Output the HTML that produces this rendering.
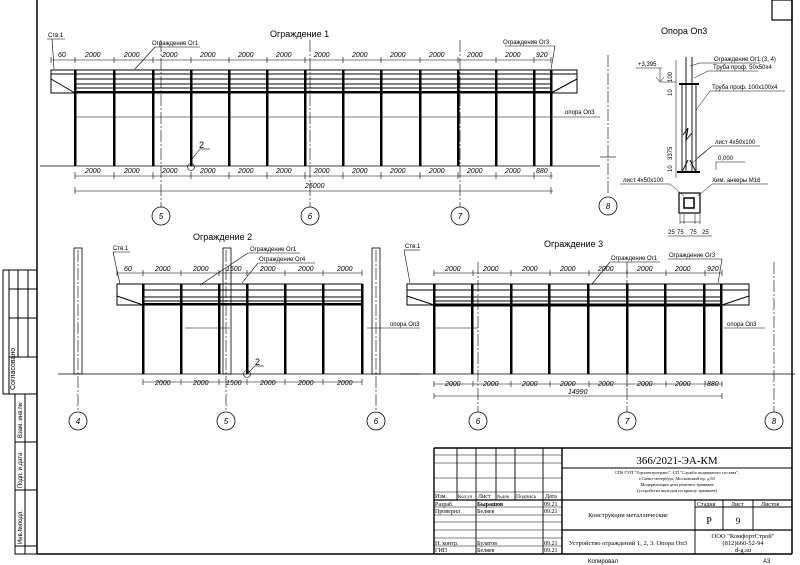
<!DOCTYPE html>
<html><head><meta charset="utf-8"><style>
html,body{margin:0;padding:0;background:#fff;}
svg{display:block;font-family:"Liberation Sans",sans-serif;}
.t{font-size:7px;font-style:italic;}
.s{font-size:6px;}
.sf{font-family:"Liberation Serif",serif;}
</style></head><body>
<svg width="800" height="565" viewBox="0 0 800 565" xmlns="http://www.w3.org/2000/svg" stroke="#000" fill="none">
<rect x="0" y="0" width="800" height="565" fill="#fff" stroke="none"/>
<line x1="37" y1="0" x2="37" y2="554" stroke-width="1.5"/>
<line x1="792" y1="0" x2="792" y2="554" stroke-width="1.5"/>
<line x1="37" y1="554" x2="792" y2="554" stroke-width="1.5"/>
<rect x="772" y="0" width="20" height="20" stroke-width="1.2"/>
<!-- left stamp -->
<g stroke-width="1">
<rect x="3" y="270" width="34" height="124"/>
<line x1="9" y1="270" x2="9" y2="394"/><line x1="18" y1="270" x2="18" y2="357"/><line x1="28" y1="270" x2="28" y2="357"/>
<line x1="9" y1="289" x2="37" y2="289"/><line x1="9" y1="318" x2="37" y2="318"/><line x1="9" y1="357" x2="37" y2="357"/>
<rect x="15" y="394" width="22" height="160"/>
<line x1="25" y1="394" x2="25" y2="554"/>
<line x1="15" y1="442" x2="37" y2="442"/><line x1="15" y1="490" x2="37" y2="490"/><line x1="15" y1="546" x2="37" y2="546"/>
</g>
<g fill="#000" stroke="none" font-size="7">
<text transform="translate(15,390) rotate(-90)">Согласовано</text>
<text transform="translate(22,438) rotate(-90)" font-size="6">Взам. инв.№</text>
<text transform="translate(22,488) rotate(-90)" font-size="6">Подп. и дата</text>
<text transform="translate(22,544) rotate(-90)" font-size="6">Инв.№подл.</text>
</g>

<!-- ================= Fence 1 ================= -->
<text x="270" y="37" font-size="9" fill="#000" stroke="none">Ограждение 1</text>
<g stroke-width="1">
<rect x="51" y="70" width="526" height="23"/>
<line x1="51" y1="74" x2="577" y2="74"/>
<line x1="75" y1="79" x2="551" y2="79"/>
<line x1="75" y1="84" x2="551" y2="84"/>
<line x1="75" y1="88" x2="551" y2="88"/>
<line x1="51" y1="79" x2="75" y2="93"/><line x1="577" y1="79" x2="551" y2="93"/>
<line x1="75" y1="92" x2="551" y2="92" stroke-width="2"/>
</g>
<g fill="#000" stroke="none">
<rect x="74" y="70" width="2.5" height="96"/><rect x="113" y="70" width="2.5" height="96"/><rect x="152" y="70" width="2.5" height="96"/>
<rect x="190" y="70" width="2.5" height="96"/><rect x="228" y="70" width="2.5" height="96"/><rect x="266" y="70" width="2.5" height="96"/>
<rect x="304" y="70" width="2.5" height="96"/><rect x="342" y="70" width="2.5" height="96"/><rect x="380" y="70" width="2.5" height="96"/>
<rect x="419" y="70" width="2.5" height="96"/><rect x="457" y="70" width="2.5" height="96"/><rect x="495" y="70" width="2.5" height="96"/>
<rect x="533" y="70" width="2.5" height="96"/><rect x="550" y="70" width="2.5" height="96"/>
</g>
<line x1="40" y1="166" x2="600" y2="166" stroke-width="0.8"/>
<line x1="75" y1="117" x2="551" y2="117" stroke-width="0.6"/>
<line x1="553" y1="117" x2="600" y2="117" stroke-width="0.6"/>
<text x="565" y="114" class="s" fill="#000" stroke="none">опора Оп3</text>
<line x1="51" y1="60" x2="551" y2="60" stroke-width="0.6"/>
<!-- ticks -->
<g stroke-width="0.6">
<path d="M75 57v6M114 57v6M153 57v6M191 57v6M229 57v6M267 57v6M305 57v6M343 57v6M381 57v6M420 57v6M458 57v6M496 57v6M534 57v6M551 57v6M51 57v6"/>
<path d="M75 172v7M114 172v7M153 172v7M191 172v7M229 172v7M267 172v7M305 172v7M343 172v7M381 172v7M420 172v7M458 172v7M496 172v7M534 172v7M551 172v7M75 187v7M551 187v7"/>
<path d="M143 270v6M181 270v6M219 270v6M247 270v6M285 270v6M323 270v6M362 270v6M117 270v6"/>
<path d="M143 379v6M181 379v6M219 379v6M247 379v6M285 379v6M323 379v6M362 379v6"/>
<path d="M434 270v6M473 270v6M511 270v6M550 270v6M589 270v6M627 270v6M666 270v6M705 270v6M722 270v6"/>
<path d="M434 381v6M473 381v6M511 381v6M550 381v6M589 381v6M627 381v6M666 381v6M705 381v6M722 381v6M434 393v6M722 393v6"/>
</g>
<g fill="#000" stroke="none" class="t">
<text x="58" y="57">60</text>
<text x="85" y="57">2000</text><text x="124" y="57">2000</text><text x="162" y="57">2000</text><text x="200" y="57">2000</text>
<text x="238" y="57">2000</text><text x="276" y="57">2000</text><text x="314" y="57">2000</text><text x="352" y="57">2000</text>
<text x="390" y="57">2000</text><text x="429" y="57">2000</text><text x="467" y="57">2000</text><text x="505" y="57">2000</text><text x="536" y="57">920</text>
<text x="85" y="173">2000</text><text x="124" y="173">2000</text><text x="162" y="173">2000</text><text x="200" y="173">2000</text>
<text x="238" y="173">2000</text><text x="276" y="173">2000</text><text x="314" y="173">2000</text><text x="352" y="173">2000</text>
<text x="390" y="173">2000</text><text x="429" y="173">2000</text><text x="467" y="173">2000</text><text x="505" y="173">2000</text><text x="536" y="173">880</text>
<text x="305" y="188">25000</text>
</g>
<line x1="75" y1="176" x2="553" y2="176" stroke-width="0.6"/>
<line x1="75" y1="191" x2="553" y2="191" stroke-width="0.6"/>
<g stroke-width="0.6">
<line x1="47" y1="39" x2="65" y2="39"/><line x1="52" y1="39" x2="54" y2="69"/>
<line x1="155" y1="47" x2="200" y2="47"/><line x1="155" y1="47" x2="135" y2="69"/>
<line x1="505" y1="46" x2="555" y2="46"/><line x1="555" y1="46" x2="551" y2="69"/>
<line x1="200" y1="149" x2="210" y2="149"/><line x1="200" y1="149" x2="192" y2="159"/>
<circle cx="191" cy="167" r="3.5"/>
</g>
<g fill="#000" stroke="none" font-size="6">
<text x="48" y="37">Ств.1</text>
<text x="152" y="45">Ограждение Ог1</text>
<text x="503" y="44">Ограждение Ог3</text>
<text x="199" y="148" font-size="9">2</text>
</g>
<g stroke-width="0.6" stroke-dasharray="12 2 2 2">
<line x1="161" y1="40" x2="161" y2="207"/><line x1="310" y1="40" x2="310" y2="207"/><line x1="460" y1="40" x2="460" y2="207"/>
<line x1="608" y1="55" x2="608" y2="195"/>
</g>
<line x1="600" y1="157" x2="616" y2="157" stroke-width="0.6"/>
<g stroke-width="0.8">
<circle cx="161" cy="216" r="9"/><circle cx="310" cy="216" r="9"/><circle cx="460" cy="216" r="9"/><circle cx="608" cy="206" r="9"/>
</g>
<g fill="#000" stroke="none" font-size="8" font-style="italic" text-anchor="middle">
<text x="161" y="219">5</text><text x="310" y="219">6</text><text x="460" y="219">7</text><text x="608" y="209">8</text>
</g>

<!-- ================= Fence 2 ================= -->
<text x="193" y="240" font-size="9" fill="#000" stroke="none">Ограждение 2</text>
<g stroke-width="0.8">
<rect x="74" y="248" width="8" height="126"/><rect x="223" y="248" width="8" height="126"/><rect x="372" y="248" width="8" height="126"/>
</g>
<g stroke-width="1">
<rect x="117" y="284" width="245" height="21"/>
<line x1="143" y1="290" x2="362" y2="290"/><line x1="143" y1="297" x2="362" y2="297"/><line x1="143" y1="301" x2="362" y2="301"/>
<line x1="117" y1="296" x2="143" y2="305"/>
<line x1="143" y1="304" x2="362" y2="304" stroke-width="2"/>
</g>
<g fill="#000" stroke="none">
<rect x="142" y="284" width="2.5" height="90"/><rect x="180" y="284" width="2.5" height="90"/><rect x="218" y="284" width="2.5" height="90"/>
<rect x="246" y="284" width="2.5" height="90"/><rect x="284" y="284" width="2.5" height="90"/><rect x="322" y="284" width="2.5" height="90"/><rect x="361" y="284" width="2.5" height="90"/>
</g>
<line x1="58" y1="374" x2="420" y2="374" stroke-width="0.8"/>
<line x1="117" y1="273" x2="362" y2="273" stroke-width="0.6"/>
<line x1="143" y1="382" x2="362" y2="382" stroke-width="0.6"/>
<line x1="185" y1="328" x2="230" y2="328" stroke-width="0.6"/>
<line x1="367" y1="328" x2="420" y2="328" stroke-width="0.6"/>
<g fill="#000" stroke="none" class="t">
<text x="124" y="271">60</text><text x="155" y="271">2000</text><text x="193" y="271">2000</text><text x="226" y="271">1500</text>
<text x="260" y="271">2000</text><text x="298" y="271">2000</text><text x="337" y="271">2000</text>
<text x="155" y="385">2000</text><text x="193" y="385">2000</text><text x="226" y="385">1500</text>
<text x="260" y="385">2000</text><text x="298" y="385">2000</text><text x="337" y="385">2000</text>
</g>
<g stroke-width="0.6">
<line x1="113" y1="252" x2="130" y2="252"/><line x1="113" y1="252" x2="120" y2="284"/>
<line x1="248" y1="253" x2="300" y2="253"/><line x1="248" y1="253" x2="200" y2="285"/>
<line x1="258" y1="263" x2="315" y2="263"/><line x1="258" y1="263" x2="242" y2="283"/>
<line x1="255" y1="366" x2="264" y2="366"/><line x1="255" y1="366" x2="248" y2="373"/>
<circle cx="247" cy="374" r="3.5"/>
</g>
<g fill="#000" stroke="none" font-size="6">
<text x="113" y="250">Ств.1</text>
<text x="250" y="251">Ограждение Ог1</text>
<text x="259" y="261">Ограждение Ог4</text>
<text x="255" y="365" font-size="9">2</text>
<text x="390" y="326">опора Оп3</text>
</g>

<!-- ================= Fence 3 ================= -->
<text x="544" y="247" font-size="9" fill="#000" stroke="none">Ограждение 3</text>
<g stroke-width="1">
<rect x="407" y="284" width="342" height="21"/>
<line x1="407" y1="290" x2="749" y2="290"/>
<line x1="434" y1="297" x2="722" y2="297"/><line x1="434" y1="301" x2="722" y2="301"/>
<line x1="407" y1="296" x2="434" y2="305"/><line x1="749" y1="296" x2="722" y2="305"/>
<line x1="434" y1="305" x2="722" y2="305" stroke-width="3"/>
</g>
<g fill="#000" stroke="none">
<rect x="433" y="284" width="2.5" height="90"/><rect x="471" y="284" width="2.5" height="90"/><rect x="510" y="284" width="2.5" height="90"/>
<rect x="548" y="284" width="2.5" height="90"/><rect x="587" y="284" width="2.5" height="90"/><rect x="626" y="284" width="2.5" height="90"/>
<rect x="664" y="284" width="2.5" height="90"/><rect x="703" y="284" width="2.5" height="90"/><rect x="720" y="284" width="2.5" height="90"/>
</g>
<line x1="400" y1="374" x2="795" y2="374" stroke-width="0.8"/>
<line x1="434" y1="328" x2="478" y2="328" stroke-width="0.6"/>
<line x1="724" y1="328" x2="765" y2="328" stroke-width="0.6"/>
<line x1="434" y1="273" x2="722" y2="273" stroke-width="0.6"/>
<line x1="434" y1="384" x2="722" y2="384" stroke-width="0.6"/>
<line x1="434" y1="396" x2="722" y2="396" stroke-width="0.6"/>
<g fill="#000" stroke="none" class="t">
<text x="445" y="271">2000</text><text x="483" y="271">2000</text><text x="522" y="271">2000</text><text x="560" y="271">2000</text>
<text x="598" y="271">2000</text><text x="637" y="271">2000</text><text x="675" y="271">2000</text><text x="707" y="271">920</text>
<text x="445" y="386">2000</text><text x="483" y="386">2000</text><text x="522" y="386">2000</text><text x="560" y="386">2000</text>
<text x="598" y="386">2000</text><text x="637" y="386">2000</text><text x="675" y="386">2000</text><text x="707" y="386">880</text>
<text x="568" y="394">14990</text>
</g>
<g stroke-width="0.6">
<line x1="404" y1="250" x2="420" y2="250"/><line x1="404" y1="250" x2="410" y2="283"/>
<line x1="610" y1="262" x2="660" y2="262"/><line x1="610" y1="262" x2="592" y2="284"/>
<line x1="668" y1="259" x2="722" y2="259"/><line x1="722" y1="259" x2="718" y2="283"/>
</g>
<g fill="#000" stroke="none" font-size="6">
<text x="405" y="248">Ств.1</text>
<text x="611" y="260">Ограждение Ог1</text>
<text x="669" y="257">Ограждение Ог3</text>
<text x="727" y="326">опора Оп3</text>
</g>
<g stroke-width="0.6" stroke-dasharray="12 2 2 2">
<line x1="78" y1="250" x2="78" y2="412"/><line x1="226" y1="250" x2="226" y2="412"/><line x1="376" y1="250" x2="376" y2="412"/>
<line x1="478" y1="262" x2="478" y2="412"/><line x1="627" y1="262" x2="627" y2="412"/><line x1="774" y1="262" x2="774" y2="412"/>
</g>
<g stroke-width="0.8">
<circle cx="78" cy="421" r="9"/><circle cx="226" cy="421" r="9"/><circle cx="376" cy="421" r="9"/>
<circle cx="478" cy="421" r="9"/><circle cx="627" cy="421" r="9"/><circle cx="774" cy="421" r="9"/>
</g>
<g fill="#000" stroke="none" font-size="8" font-style="italic" text-anchor="middle">
<text x="78" y="424">4</text><text x="226" y="424">5</text><text x="376" y="424">6</text>
<text x="478" y="424">6</text><text x="627" y="424">7</text><text x="774" y="424">8</text>
</g>

<!-- ================= Opora Op3 detail ================= -->
<text x="661" y="34" font-size="9" fill="#000" stroke="none">Опора Оп3</text>
<g stroke-width="0.9">
<line x1="682" y1="84" x2="682" y2="172"/><line x1="696" y1="84" x2="696" y2="172"/>
<line x1="686" y1="57" x2="686" y2="172"/><line x1="692" y1="57" x2="692" y2="172"/>
<line x1="679" y1="84" x2="699" y2="84" stroke-width="2"/>
<line x1="677" y1="172" x2="700" y2="172" stroke-width="2"/>
<polyline points="683,135 688,128 686,140 692,133"/>
<line x1="676" y1="60" x2="676" y2="178" stroke-width="0.5"/>
<line x1="682" y1="172" x2="688" y2="160"/><line x1="696" y1="172" x2="690" y2="160"/>
</g>
<g stroke-width="0.5">
<line x1="636" y1="68" x2="662" y2="68"/><line x1="660" y1="68" x2="660" y2="81"/><line x1="656" y1="77" x2="660" y2="82"/><line x1="664" y1="77" x2="660" y2="82"/>
<line x1="660" y1="82" x2="676" y2="82"/>
<line x1="700" y1="63" x2="760" y2="63"/><line x1="700" y1="63" x2="690" y2="66"/>
<line x1="708" y1="71" x2="758" y2="71"/><line x1="708" y1="71" x2="694" y2="78"/>
<line x1="710" y1="91" x2="785" y2="91"/><line x1="710" y1="91" x2="696" y2="110"/>
<line x1="712" y1="146" x2="760" y2="146"/><line x1="712" y1="146" x2="690" y2="165"/><line x1="712" y1="146" x2="697" y2="158"/>
<line x1="716" y1="162" x2="745" y2="162"/><line x1="716" y1="162" x2="716" y2="170"/>
<line x1="620" y1="184" x2="670" y2="184"/><line x1="670" y1="184" x2="684" y2="196"/>
<line x1="712" y1="184" x2="768" y2="184"/><line x1="712" y1="184" x2="698" y2="196"/>
<line x1="680" y1="222" x2="700" y2="222"/>
<line x1="668" y1="236" x2="712" y2="236"/>
<path d="M680 214v10M684 214v10M695 214v10M700 214v10"/>
</g>
<rect x="679" y="193" width="21" height="20" stroke-width="1.2"/>
<rect x="684" y="198" width="10" height="10" stroke-width="1.5"/>
<g fill="#000" stroke="none" font-size="6">
<text x="714" y="61">Ограждение Ог1 (3, 4)</text>
<text x="713" y="69">Труба проф. 50x50x4</text>
<text x="712" y="89">Труба проф. 100x100x4</text>
<text x="715" y="144">лист 4x50x100</text>
<text x="718" y="160">0,000</text>
<text x="623" y="182">лист 4x50x100</text>
<text x="712" y="182">Хим. анкеры М16</text>
<text x="638" y="66">+3,395</text>
<text x="668" y="234">25</text><text x="677" y="234">75</text><text x="690" y="234">75</text><text x="702" y="234">25</text>
<text transform="translate(672,82) rotate(-90)">100</text>
<text transform="translate(672,96) rotate(-90)">10</text>
<text transform="translate(672,160) rotate(-90)">3375</text>
<text transform="translate(672,172) rotate(-90)">10</text>
</g>

<!-- ================= Title block ================= -->
<g stroke-width="0.9">
<line x1="434" y1="448" x2="792" y2="448" stroke-width="1.4"/>
<line x1="434" y1="448" x2="434" y2="554" stroke-width="1.4"/>
<line x1="562" y1="448" x2="562" y2="554" stroke-width="1.4"/>
<line x1="457" y1="448" x2="457" y2="500"/><line x1="476" y1="448" x2="476" y2="554"/>
<line x1="496" y1="448" x2="496" y2="500"/><line x1="515" y1="448" x2="515" y2="500"/>
<line x1="543" y1="448" x2="543" y2="554"/>
<line x1="434" y1="455" x2="562" y2="455" stroke-width="0.5"/>
<line x1="434" y1="463" x2="562" y2="463" stroke-width="0.5"/>
<line x1="434" y1="478" x2="562" y2="478" stroke-width="0.5"/>
<line x1="434" y1="492" x2="562" y2="492" stroke-width="0.5"/>
<line x1="434" y1="500" x2="562" y2="500" stroke-width="1.2"/>
<line x1="434" y1="507" x2="562" y2="507" stroke-width="0.5"/>
<line x1="434" y1="515" x2="562" y2="515" stroke-width="0.5"/>
<line x1="434" y1="522" x2="562" y2="522" stroke-width="0.5"/>
<line x1="434" y1="530" x2="562" y2="530" stroke-width="0.5"/>
<line x1="434" y1="538" x2="562" y2="538" stroke-width="0.5"/>
<line x1="434" y1="546" x2="562" y2="546" stroke-width="0.5"/>
<line x1="562" y1="468" x2="792" y2="468"/>
<line x1="562" y1="500" x2="792" y2="500" stroke-width="1.2"/>
<line x1="562" y1="530" x2="792" y2="530" stroke-width="1.2"/>
<line x1="695" y1="500" x2="695" y2="554"/><line x1="723" y1="500" x2="723" y2="530"/><line x1="753" y1="500" x2="753" y2="530"/>
<line x1="695" y1="507" x2="792" y2="507"/>
</g>
<g fill="#000" stroke="none" class="sf" font-size="6">
<text x="677" y="464" font-size="11" text-anchor="middle">366/2021-ЭА-КМ</text>
<text x="677" y="474" font-size="4.5" text-anchor="middle">СПб ГУП "Горэлектротранс", СП "Служба подвижного состава",</text>
<text x="677" y="480" font-size="4.5" text-anchor="middle">г.Санкт-петербург, Московский пр. д.83</text>
<text x="677" y="486" font-size="4.5" text-anchor="middle">Модернизация цеха ремонта трамваев</text>
<text x="677" y="492" font-size="4.5" text-anchor="middle">(устройство выходов на крышу трамваев)</text>
<text x="435" y="498">Изм.</text><text x="458" y="498" font-size="5">Кол.уч</text><text x="478" y="498">Лист</text>
<text x="497" y="498" font-size="5">№док</text><text x="516" y="498" font-size="5.5">Подпись</text><text x="545" y="498">Дата</text>
<text x="435" y="506">Разраб.</text><text x="477" y="506" font-weight="bold">Бырашов</text><text x="544" y="506">09.21</text>
<text x="435" y="513">Проверил</text><text x="477" y="513">Беляев</text><text x="544" y="513">09.21</text>
<text x="435" y="545">Н. контр.</text><text x="477" y="545">Булатов</text><text x="544" y="545">09.21</text>
<text x="435" y="552">ГИП</text><text x="477" y="552">Беляев</text><text x="544" y="552">09.21</text>
<text x="628" y="517" font-size="6.5" text-anchor="middle">Конструкции металлические</text>
<text x="628" y="545" font-size="6.5" text-anchor="middle">Устройство ограждений 1, 2, 3. Опора Оп3</text>
<text x="697" y="506">Стадия</text><text x="731" y="506">Лист</text><text x="761" y="506">Листов</text>
<text x="709" y="524" font-size="10" text-anchor="middle">Р</text>
<text x="738" y="524" font-size="9" text-anchor="middle">9</text>
<text x="743" y="538" font-size="6.5" text-anchor="middle">ООО "КомфортСтрой"</text>
<text x="743" y="545" font-size="6.5" text-anchor="middle">(812)660-52-94</text>
<text x="743" y="552" font-size="6.5" text-anchor="middle">d-g.su</text>
</g>
<g fill="#000" stroke="none" font-size="6">
<text x="588" y="563">Копировал</text>
<text x="763" y="563">А3</text>
</g>
</svg>
</body></html>
